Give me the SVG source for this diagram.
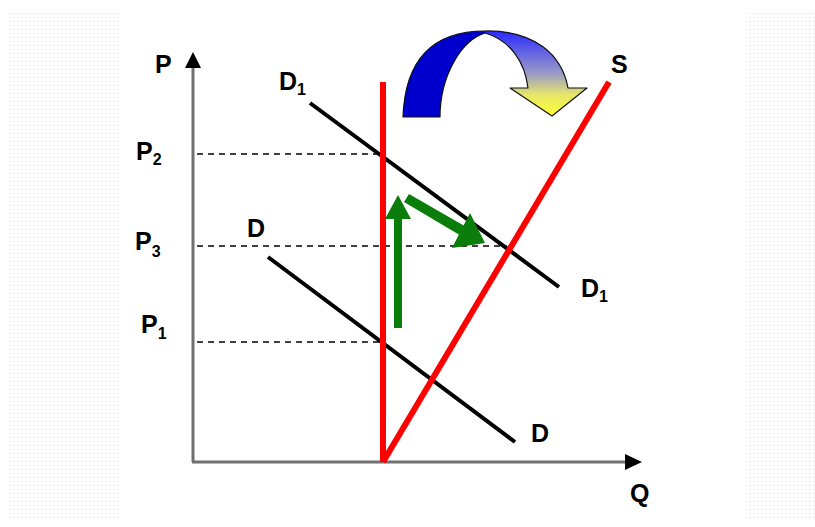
<svg xmlns="http://www.w3.org/2000/svg" width="815" height="527" viewBox="0 0 815 527">
<defs>
<pattern id="tex" width="4" height="4" patternUnits="userSpaceOnUse"><rect width="4" height="4" fill="#ffffff"/><rect x="1" y="1" width="1.5" height="1" fill="#e4e4e4"/></pattern>
<linearGradient id="fade" x1="0" y1="31" x2="0" y2="116" gradientUnits="userSpaceOnUse">
<stop offset="0" stop-color="#2a2aff"/><stop offset="0.5" stop-color="#9a9ac8"/><stop offset="0.75" stop-color="#e6e66a"/><stop offset="1" stop-color="#ffff33"/>
</linearGradient>
</defs>
<style>
.lbl{font-family:"Liberation Sans",Arial,sans-serif;font-weight:bold;font-size:25px;fill:#000}
.sub{font-size:16px}
.axis{stroke:#707070;stroke-width:3;fill:none}
.dash{stroke:#000;stroke-width:1.5;stroke-dasharray:6 5;fill:none}
.dem{stroke:#000;stroke-width:4;fill:none;stroke-linecap:butt}
.sup{stroke:#ff0000;stroke-width:6;fill:none}
.grn{fill:#0b7d0b}
</style>
<rect width="815" height="527" fill="#ffffff"/>
<rect x="8" y="10" width="112" height="508" fill="url(#tex)"/>
<rect x="746" y="10" width="69" height="508" fill="url(#tex)"/>

<g id="axes">
<line class="axis" x1="193" y1="462" x2="193" y2="66"/>
<polygon points="193,52 185,68 201,68" fill="#000"/>
<line class="axis" x1="192" y1="462" x2="626" y2="462"/>
<polygon points="642,462 625,454 625,470" fill="#000"/>
</g>

<g id="connectors">
<line class="dash" x1="197" y1="154" x2="383" y2="154"/>
<line class="dash" x1="197" y1="246" x2="507" y2="246"/>
<line class="dash" x1="197" y1="342" x2="383" y2="342"/>
</g>

<g id="demand-D">
<line class="dem" x1="268" y1="257" x2="515" y2="442"/>
</g>
<g id="demand-D1">
<line class="dem" x1="310" y1="103" x2="559" y2="287"/>
</g>
<g id="supply-vertical">
<line class="sup" x1="383" y1="82" x2="383" y2="462"/>
</g>
<g id="supply-S">
<line class="sup" x1="383" y1="462" x2="609" y2="82"/>
</g>

<g id="green-arrows">
<rect class="grn" x="394" y="217" width="8" height="111"/>
<polygon class="grn" points="398,195 385,219 411,219"/>
<polygon class="grn" points="404,202 409,194 468,228 463,237"/>
<polygon class="grn" points="485,243 452,248 470,213"/>
</g>

<g id="curved-arrow">
<path d="M403,117 C405,62 430,31 485,31 L485,33 C462,40 440,75 440,117 Z" fill="#0000cc"/>
<path d="M485,31 C535,30 562,55 568,88 L587,88 L552,116 L510,88 L528,88 C525,62 510,40 485,33 Z" fill="url(#fade)"/>
<path d="M403,117 C405,62 430,31 485,31 C535,30 562,55 568,88 L587,88 L552,116 L510,88 L528,88 C525,62 510,40 485,33 C462,40 440,75 440,117 Z" fill="none" stroke="#111" stroke-width="1.2" stroke-linejoin="round"/>
</g>

<g id="labels">
<text class="lbl" x="155" y="73">P</text>
<text class="lbl" x="630" y="502">Q</text>
<text class="lbl" x="611" y="73">S</text>
<text class="lbl" x="279" y="90">D<tspan class="sub" dy="5">1</tspan></text>
<text class="lbl" x="136" y="160">P<tspan class="sub" dy="5">2</tspan></text>
<text class="lbl" x="135" y="250">P<tspan class="sub" dy="7">3</tspan></text>
<text class="lbl" x="141" y="333">P<tspan class="sub" dy="6">1</tspan></text>
<text class="lbl" x="247" y="237">D</text>
<text class="lbl" x="581" y="297">D<tspan class="sub" dy="5">1</tspan></text>
<text class="lbl" x="531" y="442">D</text>
</g>
</svg>
